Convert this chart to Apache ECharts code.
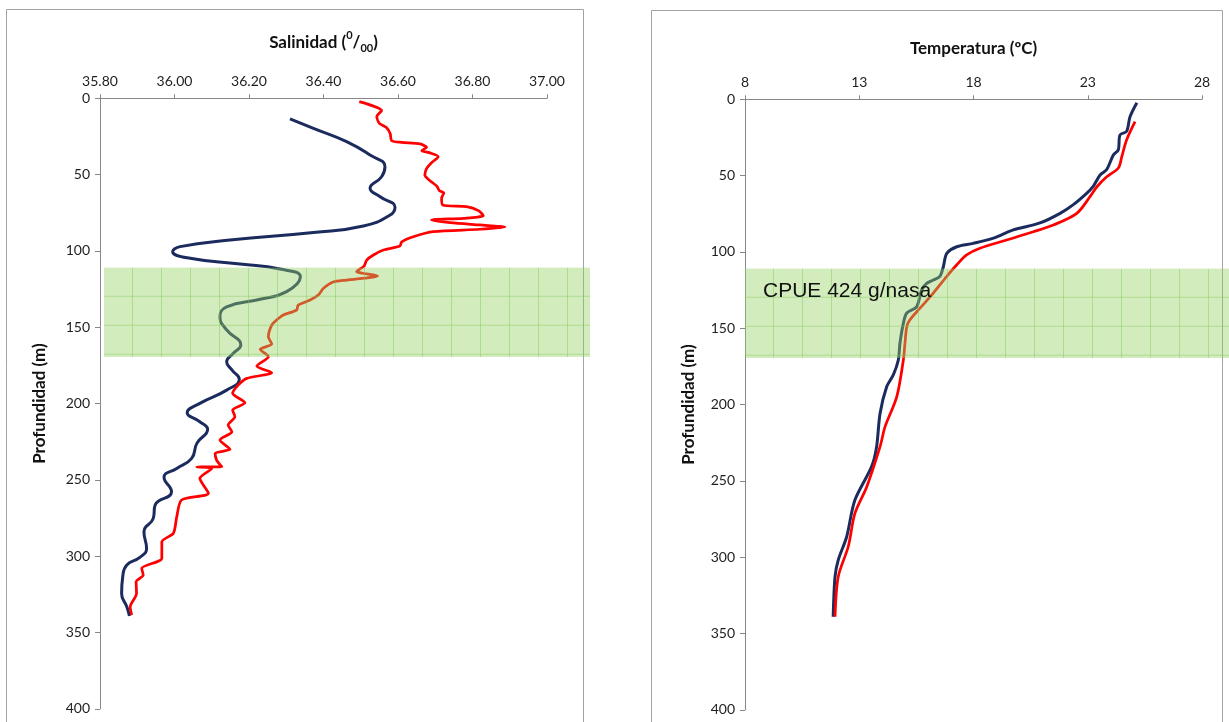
<!DOCTYPE html>
<html>
<head>
<meta charset="utf-8">
<title>Salinidad / Temperatura</title>
<script src="https://cdn.jsdelivr.net/npm/echarts@6/dist/echarts.min.js"></script>
<style>
  html, body { margin: 0; padding: 0; background: #fff; }
  #main { width: 1229px; height: 722px; }
</style>
</head>
<body>
<div id="main"></div>
<script>
// --- datos: salinidad (perfil azul) ---
var salBlueVal = [36.31, 36.373, 36.462, 36.525, 36.565, 36.556, 36.525, 36.552, 36.592, 36.579, 36.507, 36.373, 36.149, 36.015, 35.995, 36.042, 36.176, 36.283, 36.338, 36.301, 36.23, 36.14, 36.122, 36.14, 36.178, 36.158, 36.14, 36.154, 36.174, 36.14, 36.068, 36.034, 36.068, 36.089, 36.06, 36.046, 36.006, 35.972, 35.992, 35.948, 35.943, 35.918, 35.925, 35.907, 35.872, 35.861, 35.858, 35.872, 35.879];
var salBlueDepth = [13.5, 19.7, 28.4, 37.2, 44.8, 51.4, 59, 64.5, 71.4, 76.5, 83.7, 88, 92.9, 97.2, 100.5, 104.8, 108.6, 111.9, 117, 126.7, 131.7, 136.6, 143.1, 151.8, 161.7, 167.1, 172.6, 178, 184.1, 191.2, 199.9, 206, 211.9, 216.9, 226.1, 235.9, 242.5, 248.4, 257.8, 266.5, 275.2, 284, 295, 300.8, 305.8, 313.5, 324.4, 333.2, 339.2];

// --- datos: salinidad (perfil rojo) ---
var salRedVal = [36.496, 36.556, 36.543, 36.55, 36.568, 36.579, 36.583, 36.61, 36.659, 36.677, 36.664, 36.684, 36.708, 36.69, 36.677, 36.672, 36.686, 36.704, 36.711, 36.723, 36.717, 36.72, 36.784, 36.816, 36.829, 36.775, 36.69, 36.74, 36.82, 36.887, 36.82, 36.695, 36.641, 36.61, 36.605, 36.561, 36.534, 36.516, 36.509, 36.489, 36.516, 36.545, 36.462, 36.426, 36.4, 36.386, 36.364, 36.332, 36.328, 36.292, 36.274, 36.261, 36.252, 36.261, 36.23, 36.252, 36.221, 36.261, 36.194, 36.171, 36.156, 36.189, 36.156, 36.162, 36.144, 36.154, 36.122, 36.149, 36.109, 36.113, 36.127, 36.06, 36.1, 36.068, 36.091, 36.019, 36.006, 35.997, 35.966, 35.966, 35.912, 35.916, 35.897, 35.898, 35.881, 35.885];
var salRedDepth = [2.2, 8.1, 12, 16.4, 19, 23, 27.8, 28.9, 29.9, 32.1, 34.3, 35.6, 38.3, 42.2, 45.9, 50.3, 54, 57.5, 60.5, 61.9, 65.5, 69.9, 71, 73.6, 76.9, 78.6, 79.7, 81.5, 83, 84.3, 85.8, 87.4, 90.7, 94, 96.8, 99.4, 102.7, 106, 109.9, 113.6, 115.1, 116.4, 119.1, 120.4, 124.5, 128.9, 132.2, 135.5, 138.7, 142, 145.3, 148.6, 156.2, 161, 164.5, 169.3, 175.4, 179.8, 183.5, 187.9, 193.3, 199.5, 204.3, 208.6, 214.1, 218.5, 223.9, 230, 232.6, 237, 241.4, 241.6, 242.5, 249, 258.8, 263.2, 274.2, 285, 290.6, 301.4, 308, 312.4, 316.8, 324.4, 333.2, 338.6];

// --- datos: temperatura (perfil azul) ---
var tempBlueVal = [25.15, 24.85, 24.7, 24.41, 24.34, 24.12, 23.83, 23.54, 23.24, 22.95, 22.37, 21.79, 20.91, 19.74, 18.87, 17.99, 17.27, 16.83, 16.68, 16.53, 16.24, 15.95, 15.73, 15.51, 15.08, 14.93, 14.78, 14.71, 14.49, 14.2, 13.91, 13.76, 13.54, 12.81, 12.45, 12.08, 11.94, 11.86];
var tempBlueDepth = [2.2, 11.4, 21, 23.4, 33, 36.5, 46, 49.6, 57, 61.6, 69, 74.7, 81, 85.6, 91, 94.4, 96.6, 101, 109.7, 116, 118.4, 120.6, 125, 136, 140, 146.8, 160, 170.8, 180.6, 188.3, 205.8, 227.6, 240.7, 262.6, 286.6, 301.9, 312.8, 339];

// --- datos: temperatura (perfil rojo) ---
var tempRedVal = [25.07, 24.7, 24.49, 24.34, 23.83, 23.4, 23.1, 22.52, 21.49, 20.62, 19.45, 18.28, 17.7, 17.26, 16.83, 16.24, 15.65, 15.21, 15.08, 15.0, 14.93, 14.64, 14.13, 13.91, 13.33, 12.81, 12.52, 12.08, 11.94];
var tempRedDepth = [14.7, 26.7, 37.6, 45, 50.7, 57.3, 63.8, 74.7, 82.4, 86.8, 92.2, 97.6, 102, 108.6, 116, 127, 137, 144.6, 149, 160, 170.8, 195, 214.5, 227.6, 253.8, 271.3, 293, 312.8, 339];

// ejes
var salTicks = [35.8, 37.0, 0.2];
var tempTicks = [8, 28, 5];
var depthTicks = [0, 400, 50];
// franja CPUE (profundidad)
var bandDepth = [111, 169.5];
var bandLabel = 'CPUE 424 g/nasa';

var zip = function (xs, ys) {
  var out = [];
  for (var i = 0; i < xs.length; i++) out.push([xs[i], ys[i]]);
  return out;
};

var axisGrey = '#878787';
var labelFont = 'Lato, "Open Sans", sans-serif';

var makeXAxis = function (idx, ticks, name, gap, fmt) {
  return {
    gridIndex: idx,
    type: 'value',
    position: 'top',
    min: ticks[0], max: ticks[1], interval: ticks[2],
    name: name,
    nameLocation: 'middle',
    nameGap: gap,
    nameTextStyle: {
      fontFamily: labelFont, fontWeight: 'bold', fontSize: 17, color: '#111',
      rich: {
        b: { fontFamily: labelFont, fontWeight: 'bold', fontSize: 17, color: '#111', lineHeight: 24 },
        sup: { fontFamily: labelFont, fontWeight: 'bold', fontSize: 11, color: '#111', verticalAlign: 'top', lineHeight: 24 },
        sub: { fontFamily: labelFont, fontWeight: 'bold', fontSize: 11, color: '#111', verticalAlign: 'bottom', lineHeight: 16 }
      }
    },
    axisLine: { show: true, onZero: false, lineStyle: { color: axisGrey, width: 1 } },
    axisTick: { show: true, length: 4, lineStyle: { color: axisGrey } },
    splitLine: { show: false },
    axisLabel: { margin: 10, fontFamily: labelFont, fontSize: 14, color: '#1e1e1e', formatter: fmt }
  };
};

var makeYAxis = function (idx, gap) {
  return {
    gridIndex: idx,
    type: 'value',
    inverse: true,
    min: depthTicks[0], max: depthTicks[1], interval: depthTicks[2],
    name: 'Profundidad (m)',
    nameLocation: 'middle',
    nameGap: gap,
    nameTextStyle: { fontFamily: labelFont, fontWeight: 'bold', fontSize: 17, color: '#111' },
    axisLine: { show: true, onZero: false, lineStyle: { color: axisGrey, width: 1 } },
    axisTick: { show: true, length: 5, lineStyle: { color: axisGrey } },
    splitLine: { show: false },
    axisLabel: { margin: 10, fontFamily: labelFont, fontSize: 14, color: '#1e1e1e' }
  };
};

var lineSeries = function (idx, data, color, smooth, width) {
  return {
    type: 'line',
    xAxisIndex: idx, yAxisIndex: idx,
    data: data,
    showSymbol: false,
    smooth: smooth,
    lineStyle: { color: color, width: width },
    z: 2
  };
};

var chart = echarts.init(document.getElementById('main'), null, { renderer: 'canvas' });

chart.setOption({
  animation: false,
  backgroundColor: '#ffffff',
  grid: [
    { left: 100, top: 98.3, width: 447, height: 610.5 },
    { left: 745, top: 99.3, width: 457, height: 610.5 }
  ],
  xAxis: [
    makeXAxis(0, salTicks, '{b|Salinidad (}{sup|0}{b|/}{sub|00}{b|)}', 44, function (v) { return v.toFixed(2); }),
    makeXAxis(1, tempTicks, 'Temperatura (ºC)', 42, function (v) { return String(v); })
  ],
  yAxis: [makeYAxis(0, 52), makeYAxis(1, 48)],
  series: [
    lineSeries(0, zip(salBlueVal, salBlueDepth), '#1b2b5e', 0.5, 3),
    lineSeries(0, zip(salRedVal, salRedDepth), '#ff0000', 0.25, 2.75),
    lineSeries(1, zip(tempBlueVal, tempBlueDepth), '#1b2b5e', 0.3, 3),
    lineSeries(1, zip(tempRedVal, tempRedDepth), '#ff0000', 0.3, 2.75)
  ]
});

// textura de la franja (verde con cuadrícula)
var patternCanvas = document.createElement('canvas');
patternCanvas.width = 29;
patternCanvas.height = 29;
var pctx = patternCanvas.getContext('2d');
pctx.fillStyle = 'rgba(150,210,100,0.42)';
pctx.fillRect(0, 0, 29, 29);
pctx.strokeStyle = 'rgba(125,200,80,0.45)';
pctx.lineWidth = 1;
pctx.beginPath();
pctx.moveTo(28.5, 0); pctx.lineTo(28.5, 29);
pctx.moveTo(0, 28.5); pctx.lineTo(29, 28.5);
pctx.stroke();

var bandTopL = chart.convertToPixel({ yAxisIndex: 0 }, bandDepth[0]);
var bandBotL = chart.convertToPixel({ yAxisIndex: 0 }, bandDepth[1]);
var bandTopR = chart.convertToPixel({ yAxisIndex: 1 }, bandDepth[0]);
var bandBotR = chart.convertToPixel({ yAxisIndex: 1 }, bandDepth[1]);
var leftAxisX = chart.convertToPixel({ xAxisIndex: 0 }, salTicks[0]);
var rightAxisX = chart.convertToPixel({ xAxisIndex: 1 }, tempTicks[0]);

var bandRect = function (x, y, w, h) {
  return {
    type: 'rect', x: x, y: y, z: 50, silent: true,
    shape: { x: 0, y: 0, width: w, height: h },
    style: { fill: { image: patternCanvas, repeat: 'repeat' } }
  };
};

chart.setOption({
  graphic: [
    // marcos de cada panel
    { type: 'rect', z: 1, silent: true, shape: { x: 6.5, y: 9.5, width: 577, height: 760 },
      style: { fill: null, stroke: '#a3a3a3', lineWidth: 1 } },
    { type: 'rect', z: 1, silent: true, shape: { x: 651.5, y: 10.5, width: 571, height: 760 },
      style: { fill: null, stroke: '#a3a3a3', lineWidth: 1 } },
    bandRect(leftAxisX + 4, bandTopL, 590 - leftAxisX - 4, bandBotL - bandTopL),
    bandRect(rightAxisX, bandTopR, 1229 - rightAxisX, bandBotR - bandTopR),
    { type: 'text', z: 60, silent: true, x: 763, y: 291,
      style: { text: bandLabel, fill: '#111', font: '21px "Liberation Sans", Arial, sans-serif', verticalAlign: 'middle' } }
  ]
});
</script>
</body>
</html>
